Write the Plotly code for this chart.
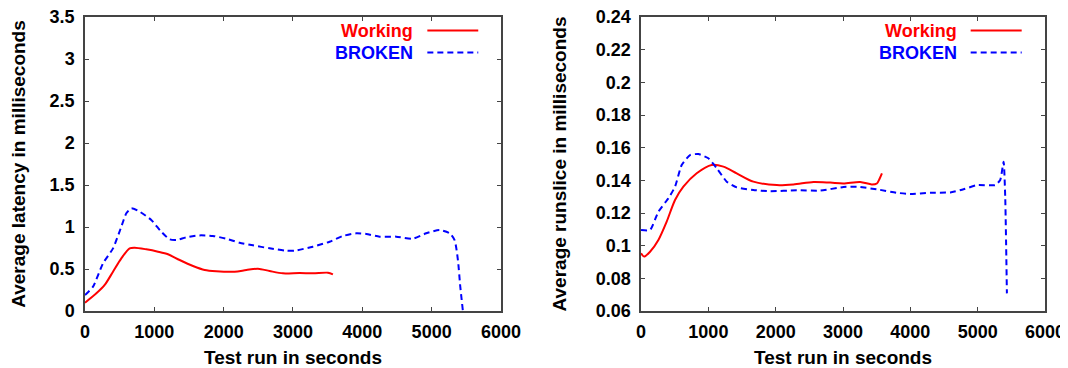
import plotly.graph_objects as go

# ---- data ----
lat_work_x = [0, 164, 284, 404, 524, 644, 716, 884, 1053, 1197, 1365, 1558, 1726, 1894, 2158, 2327, 2495, 2663, 2855, 3096, 3288, 3504, 3576]
lat_work_y = [0.099, 0.21, 0.31, 0.468, 0.627, 0.746, 0.754, 0.734, 0.706, 0.675, 0.607, 0.536, 0.488, 0.473, 0.468, 0.488, 0.504, 0.476, 0.448, 0.452, 0.448, 0.456, 0.436]

lat_brok_x = [0, 116, 260, 404, 524, 596, 668, 788, 956, 1100, 1221, 1317, 1461, 1654, 1846, 2038, 2230, 2422, 2663, 2903, 3023, 3288, 3528, 3720, 3913, 4057, 4249, 4489, 4730, 4922, 5114, 5259, 5331, 5379, 5413, 5451]
lat_brok_y = [0.19, 0.29, 0.567, 0.746, 1.004, 1.163, 1.222, 1.183, 1.083, 0.944, 0.853, 0.845, 0.877, 0.9, 0.893, 0.861, 0.813, 0.782, 0.746, 0.718, 0.718, 0.766, 0.825, 0.893, 0.925, 0.917, 0.885, 0.885, 0.861, 0.925, 0.964, 0.925, 0.845, 0.607, 0.29, 0.0]

rs_work_x = [0, 45, 134, 258, 381, 505, 629, 827, 1050, 1223, 1421, 1669, 2016, 2264, 2561, 2809, 3007, 3255, 3428, 3503, 3543, 3578]
rs_work_y = [0.0953, 0.0933, 0.0963, 0.1035, 0.1147, 0.128, 0.1361, 0.1443, 0.1494, 0.1484, 0.1443, 0.1392, 0.1371, 0.1375, 0.139, 0.1386, 0.1381, 0.139, 0.1375, 0.1381, 0.141, 0.1443]

rs_brok_x = [0, 134, 258, 406, 505, 604, 728, 852, 1000, 1124, 1273, 1421, 1669, 1917, 2313, 2660, 3007, 3205, 3503, 3800, 3998, 4296, 4593, 4791, 4989, 5261, 5335, 5385, 5409, 5434]
rs_brok_y = [0.1096, 0.1096, 0.1208, 0.129, 0.1361, 0.1494, 0.1555, 0.1561, 0.1535, 0.1474, 0.1392, 0.1357, 0.1341, 0.1333, 0.1339, 0.1337, 0.1359, 0.1361, 0.1345, 0.1324, 0.1316, 0.1324, 0.1326, 0.1345, 0.1371, 0.1371, 0.1402, 0.1514, 0.13, 0.0708]

x_ticks = [0, 1000, 2000, 3000, 4000, 5000, 6000]
lat_ticks = [0, 0.5, 1, 1.5, 2, 2.5, 3, 3.5]
rs_ticks = [0.06, 0.08, 0.1, 0.12, 0.14, 0.16, 0.18, 0.2, 0.22, 0.24]
rs_tick_text = ["0.06", "0.08", "0.1", "0.12", "0.14", "0.16", "0.18", "0.2", "0.22", "0.24"]

series_names = ["Working", "BROKEN"]
RED = "#ff0000"
BLUE = "#0000ff"
FONT = "Liberation Sans"
DASH = "6px,4px"

fig = go.Figure()
fig.add_trace(go.Scatter(x=lat_work_x, y=lat_work_y, mode="lines", name=series_names[0],
                         line=dict(color=RED, width=2, shape="spline", smoothing=0.8),
                         xaxis="x", yaxis="y"))
fig.add_trace(go.Scatter(x=lat_brok_x, y=lat_brok_y, mode="lines", name=series_names[1],
                         line=dict(color=BLUE, width=2, dash=DASH, shape="spline", smoothing=0.6),
                         xaxis="x", yaxis="y"))
fig.add_trace(go.Scatter(x=rs_work_x, y=rs_work_y, mode="lines", name=series_names[0],
                         line=dict(color=RED, width=2, shape="spline", smoothing=0.8),
                         xaxis="x2", yaxis="y2"))
fig.add_trace(go.Scatter(x=rs_brok_x, y=rs_brok_y, mode="lines", name=series_names[1],
                         line=dict(color=BLUE, width=2, dash=DASH, shape="spline", smoothing=0.5),
                         xaxis="x2", yaxis="y2"))

axis_common = dict(showline=True, linecolor="#444444", linewidth=1.5, mirror="allticks",
                   ticks="inside", ticklen=4, tickwidth=1, tickcolor="#444444",
                   showgrid=False, zeroline=False, automargin=False, ticklabeloverflow="allow",
                   tickfont=dict(family=FONT, size=18, color="black", weight="bold"))

title_font = dict(family=FONT, size=19, color="black", weight="bold")

# the page body adds an 8px offset, so the figure is 8px smaller than the window
fig.update_layout(
    width=1060, height=360,
    margin=dict(l=77, r=23, t=9, b=57),
    paper_bgcolor="white", plot_bgcolor="white",
    showlegend=False,
    font=dict(family=FONT, weight="bold"),
    xaxis=dict(domain=[0, 0.4333], range=[0, 6000], tickvals=x_ticks, anchor="y", ticklabelstandoff=4,
               title=dict(text="Test run in seconds", font=title_font, standoff=12), **axis_common),
    yaxis=dict(domain=[0, 1], range=[0, 3.5], tickvals=lat_ticks, anchor="x", ticklabelstandoff=5,
               title=dict(text="Average latency in milliseconds", font=title_font, standoff=20), **axis_common),
    xaxis2=dict(domain=[0.5792, 1], range=[0, 6000], tickvals=x_ticks, anchor="y2", ticklabelstandoff=4,
                title=dict(text="Test run in seconds", font=title_font, standoff=12), **axis_common),
    yaxis2=dict(domain=[0, 1], range=[0.06, 0.24], tickvals=rs_ticks, ticktext=rs_tick_text, anchor="x2",
                ticklabelstandoff=5,
                title=dict(text="Average runslice in milliseconds", font=title_font, standoff=24), **axis_common),
)

legend_font = dict(family=FONT, size=18, weight="bold")
for xa, ya, tx, s0, s1 in [("x", "y", 0.7916, 0.823, 0.9454), ("x2", "y2", 0.7854, 0.816, 0.9423)]:
    for name, color, dash, yy in [(series_names[0], RED, "solid", 0.954), (series_names[1], BLUE, DASH, 0.879)]:
        fig.add_annotation(text=name, xref=f"{xa} domain", yref=f"{ya} domain", x=tx, y=yy,
                           xanchor="right", yanchor="middle", showarrow=False, borderpad=0,
                           font=dict(color=color, **legend_font))
        fig.add_shape(type="line", xref=f"{xa} domain", yref=f"{ya} domain",
                      x0=s0, x1=s1, y0=yy, y1=yy, line=dict(color=color, width=2, dash=dash))

fig.write_html("out.html")
